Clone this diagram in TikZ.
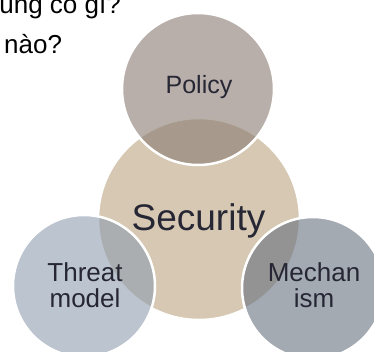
\documentclass[tikz,border=0pt]{standalone}
\usepackage{fontspec}
\setmainfont{Liberation Sans}
\definecolor{secfill}{RGB}{214,200,178}
\definecolor{polfill}{RGB}{137,122,113}
\definecolor{thrfill}{RGB}{143,157,175}
\definecolor{mecfill}{RGB}{103,113,127}
\definecolor{txt}{RGB}{38,38,52}
\tikzset{
  venn/.style={circle, draw=white, line width=2.5pt, inner sep=0pt, text=txt},
  over/.style={venn, fill opacity=0.6, text opacity=1},
  lbl/.style={inner sep=0pt, text=txt, font=\fontsize{26}{26}\selectfont, align=center},
}
\begin{document}
\begin{tikzpicture}[x=1pt,y=-1pt]
\useasboundingbox (0,0) rectangle (374,351);
\clip (0,0) rectangle (374,351);
% circles
\node[venn, fill=secfill, minimum size=202pt] (security) at (199,219) {};
\node[over, fill=polfill, minimum size=152pt] (policy) at (198,89) {};
\node[over, fill=thrfill, minimum size=142pt] (threat) at (84,286) {};
\node[over, fill=mecfill, minimum size=142pt] (mechanism) at (313,288) {};
% labels
\node[inner sep=0pt, text=txt, font=\fontsize{25}{25}\selectfont, anchor=base] (policytext) at (199,93) {Policy};
\node[inner sep=0pt, text=txt, font=\fontsize{37}{37}\selectfont, anchor=base] (securitytext) at (198.5,230) {Security};
\node[lbl] (threattext) at (85,285.5) {Threat\\model};
\node[lbl] (mechtext) at (314,285.5) {Mechan\\ism};
% top slide text
\node[inner sep=0pt, text=black, font=\fontsize{26}{26}\selectfont, anchor=base east] (line1) at (121,13) {chung có gì?};
\node[inner sep=0pt, text=black, font=\fontsize{26}{26}\selectfont, anchor=base west] (line2) at (4,53) {nào?};
\end{tikzpicture}
\end{document}
